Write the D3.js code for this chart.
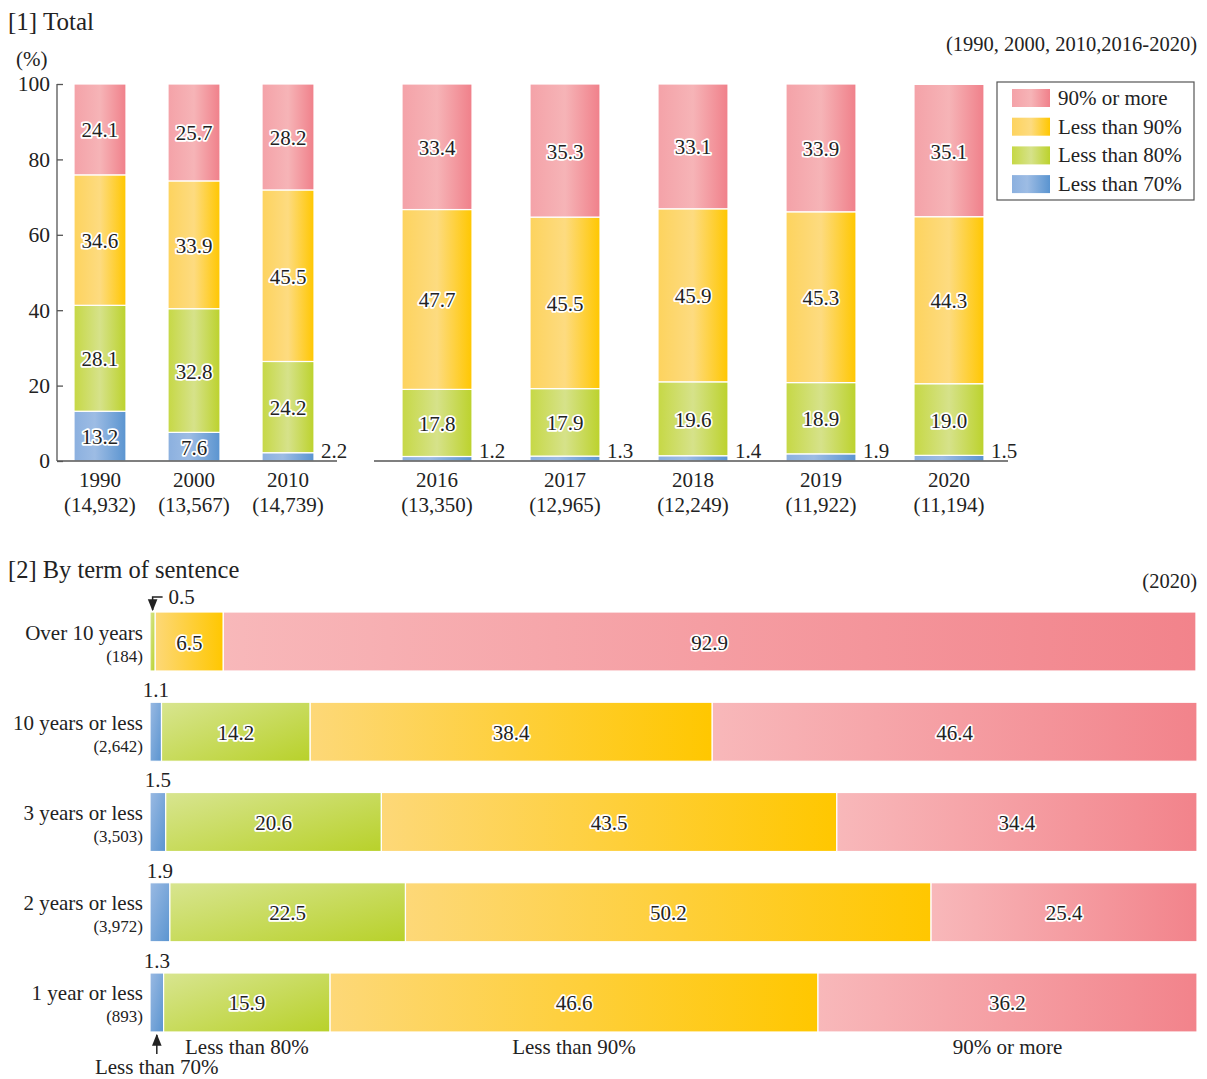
<!DOCTYPE html>
<html><head><meta charset="utf-8">
<script src="https://cdn.jsdelivr.net/npm/d3@7"></script>
<style>
body{margin:0;background:#fff;}
text{font-family:"Liberation Serif","Times New Roman",serif;fill:#222;}
.val{paint-order:stroke;stroke:#fff;stroke-width:3.5px;stroke-linejoin:round;}
</style></head>
<body><svg id="c" width="1207" height="1079"></svg>
<script>
// ---------- data ----------
const seriesKeys = ["lt70","lt80","lt90","ge90"];
const seriesNames = ["Less than 70%","Less than 80%","Less than 90%","90% or more"];
const yearsA = ["1990","2000","2010"];
const countsA = ["(14,932)","(13,567)","(14,739)"];
const yearsB = ["2016","2017","2018","2019","2020"];
const countsB = ["(13,350)","(12,965)","(12,249)","(11,922)","(11,194)"];
const lt70Top = [13.2,7.6,2.2,1.2,1.3,1.4,1.9,1.5];
const lt80Top = [28.1,32.8,24.2,17.8,17.9,19.6,18.9,19.0];
const lt90Top = [34.6,33.9,45.5,47.7,45.5,45.9,45.3,44.3];
const ge90Top = [24.1,25.7,28.2,33.4,35.3,33.1,33.9,35.1];
const yTicks = [0,20,40,60,80,100];

const terms = ["Over 10 years","10 years or less","3 years or less","2 years or less","1 year or less"];
const termCounts = ["(184)","(2,642)","(3,503)","(3,972)","(893)"];
const lt70Term = [0,1.1,1.5,1.9,1.3];
const lt80Term = [0.5,14.2,20.6,22.5,15.9];
const lt90Term = [6.5,38.4,43.5,50.2,46.6];
const ge90Term = [92.9,46.4,34.4,25.4,36.2];

// ---------- setup ----------
const FS = 21;
const svg = d3.select("#c");
const defs = svg.append("defs");
function grad(id, stops, x2, y2){
  const g = defs.append("linearGradient").attr("id",id)
    .attr("x1",0).attr("y1",0).attr("x2",x2).attr("y2",y2);
  stops.forEach(s=>g.append("stop").attr("offset",s[0]).attr("stop-color",s[1]));
}
grad("vA_ge90",[[0,"#f4a2a8"],[0.5,"#f6b4b7"],[1,"#f0808a"]],1,0);
grad("vA_lt90",[[0,"#fdd35e"],[0.5,"#fddb80"],[1,"#ffc700"]],1,0);
grad("vA_lt80",[[0,"#c6d845"],[0.5,"#d6e28a"],[1,"#bcd22c"]],1,0);
grad("vA_lt70",[[0,"#8bb0df"],[0.4,"#9dbce4"],[1,"#5a94d0"]],1,0);
grad("h_ge90",[[0,"#f8b8ba"],[1,"#f2838b"]],1,0);
grad("h_lt90",[[0,"#fdd878"],[1,"#ffc700"]],1,0);
grad("h_lt80",[[0,"#d8e590"],[1,"#b8d12a"]],1,1);
grad("h_lt70",[[0,"#9abae3"],[1,"#5a94d0"]],1,1);

defs.append("marker").attr("id","arr").attr("viewBox","0 0 10 10").attr("refX",9).attr("refY",5)
  .attr("markerWidth",8).attr("markerHeight",8).attr("orient","auto-start-reverse")
  .append("path").attr("d","M0,1 L10,5 L0,9 Z").attr("fill","#222");

// ---------- chart 1 ----------
const y = d3.scaleLinear().domain([0,100]).range([461,84]);
const xA = d3.scaleBand().domain(yearsA).range([74,314]).paddingInner(0.447).paddingOuter(0);
const xB = d3.scaleBand().domain(yearsB).range([402,984]).paddingInner(0.453).paddingOuter(0);
const allYears = yearsA.concat(yearsB);
const allCounts = countsA.concat(countsB);
const topData = allYears.map((yr,i)=>({year:yr,count:allCounts[i],lt70:lt70Top[i],lt80:lt80Top[i],lt90:lt90Top[i],ge90:ge90Top[i]}));
const stackTop = d3.stack().keys(seriesKeys)(topData);
const xPos = yr => yearsA.includes(yr) ? xA(yr) : xB(yr);
const bw = yr => yearsA.includes(yr) ? xA.bandwidth() : xB.bandwidth();

svg.append("text").attr("x",8).attr("y",30).attr("font-size",25).text("[1] Total");
svg.append("text").attr("x",16).attr("y",66).attr("font-size",21).text("(%)");
svg.append("text").attr("x",1197).attr("y",51).attr("text-anchor","end").attr("font-size",20.5).text("(1990, 2000, 2010,2016-2020)");

const yAxis = d3.axisLeft(y).tickValues(yTicks).tickSize(-6).tickPadding(7);
const gy = svg.append("g").attr("transform","translate(57,0)").call(yAxis);
gy.selectAll("path,line").attr("stroke","#555").attr("stroke-width",1.3);
gy.select(".domain").attr("d","M0,"+y(100)+"V"+y(0));
gy.selectAll("text").attr("font-size",21.5).attr("font-family","Liberation Serif, serif").attr("fill","#222");

stackTop.forEach(layer=>{
  const k = layer.key;
  svg.append("g").selectAll("rect").data(layer).join("rect")
    .attr("x",d=>xPos(d.data.year)).attr("width",d=>bw(d.data.year))
    .attr("y",d=>y(Math.min(d[1],100))).attr("height",d=>y(d[0])-y(Math.min(d[1],100)))
    .attr("fill","url(#vA_"+k+")").attr("stroke","#fff").attr("stroke-width",1.2);
});
svg.append("line").attr("x1",57).attr("x2",337).attr("y1",y(0)).attr("y2",y(0)).attr("stroke","#555").attr("stroke-width",1.3);
svg.append("line").attr("x1",374).attr("x2",1008).attr("y1",y(0)).attr("y2",y(0)).attr("stroke","#555").attr("stroke-width",1.3);

stackTop.forEach(layer=>{
  const k = layer.key;
  layer.forEach(d=>{
    const v = d.data[k];
    const cx = xPos(d.data.year)+bw(d.data.year)/2;
    if(k==="lt70" && v<5){
      svg.append("text").attr("x",xPos(d.data.year)+bw(d.data.year)+7).attr("y",y(0)-3)
        .attr("font-size",FS).text(v.toFixed(1));
    } else {
      svg.append("text").attr("class","val").attr("x",cx).attr("y",(y(d[0])+y(Math.min(d[1],100)))/2+8)
        .attr("text-anchor","middle").attr("font-size",FS).text(v.toFixed(1));
    }
  });
});
topData.forEach(d=>{
  const cx = xPos(d.year)+bw(d.year)/2;
  svg.append("text").attr("x",cx).attr("y",487).attr("text-anchor","middle").attr("font-size",21).text(d.year);
  svg.append("text").attr("x",cx).attr("y",512).attr("text-anchor","middle").attr("font-size",21).text(d.count);
});
svg.append("rect").attr("x",997).attr("y",82).attr("width",197).attr("height",118).attr("fill","#fff").attr("stroke","#555").attr("stroke-width",1.2);
const legOrder = [3,2,1,0];
legOrder.forEach((si,i)=>{
  const cy = 98 + i*28.7;
  svg.append("rect").attr("x",1012).attr("y",cy-9).attr("width",38).attr("height",18)
    .attr("fill","url(#vA_"+seriesKeys[si]+")");
  svg.append("text").attr("x",1058).attr("y",cy+7).attr("font-size",21).text(seriesNames[si]);
});

// ---------- chart 2 ----------
svg.append("text").attr("x",8).attr("y",578).attr("font-size",24.5).text("[2] By term of sentence");
svg.append("text").attr("x",1197).attr("y",588).attr("text-anchor","end").attr("font-size",20.5).text("(2020)");

const x2 = d3.scaleLinear().domain([0,100]).range([150,1197]);
const yB = d3.scaleBand().domain(terms).range([612,1032]).paddingInner(0.346).paddingOuter(0);
const termData = terms.map((t,i)=>({term:t,count:termCounts[i],lt70:lt70Term[i],lt80:lt80Term[i],lt90:lt90Term[i],ge90:ge90Term[i]}));
const stackTerm = d3.stack().keys(seriesKeys)(termData);
stackTerm.forEach(layer=>{
  const k = layer.key;
  svg.append("g").selectAll("rect").data(layer.filter(d=>d[1]-d[0]>0)).join("rect")
    .attr("x",d=>x2(d[0])).attr("width",d=>x2(Math.min(d[1],100))-x2(d[0]))
    .attr("y",d=>yB(d.data.term)).attr("height",yB.bandwidth())
    .attr("fill","url(#h_"+k+")").attr("stroke","#fff").attr("stroke-width",1.2);
  layer.forEach(d=>{
    const v = d.data[k];
    if(v<=0) return;
    const cy = yB(d.data.term)+yB.bandwidth()/2;
    const cx = (x2(d[0])+x2(Math.min(d[1],100)))/2;
    if(v>=3){
      svg.append("text").attr("class","val").attr("x",cx).attr("y",cy+8)
        .attr("text-anchor","middle").attr("font-size",FS).text(v.toFixed(1));
    } else if(k==="lt70"){
      svg.append("text").attr("x",cx).attr("y",yB(d.data.term)-5)
        .attr("text-anchor","middle").attr("font-size",FS).text(v.toFixed(1));
    } else {
      const top = yB(d.data.term);
      svg.append("path").attr("d",`M${cx+10},${top-15}H${cx}V${top-2}`)
        .attr("fill","none").attr("stroke","#222").attr("stroke-width",1.5).attr("marker-end","url(#arr)");
      svg.append("text").attr("x",cx+16).attr("y",top-8).attr("font-size",FS).text(v.toFixed(1));
    }
  });
});
termData.forEach(d=>{
  const cy = yB(d.term)+yB.bandwidth()/2;
  svg.append("text").attr("x",143).attr("y",cy-2).attr("text-anchor","end").attr("font-size",21).text(d.term);
  svg.append("text").attr("x",143).attr("y",cy+20).attr("text-anchor","end").attr("font-size",17).text(d.count);
});
const last = terms[terms.length-1];
const lastIdx = terms.length-1;
const barBottom = yB(last)+yB.bandwidth();
const segCenter = k => { const L = stackTerm[seriesKeys.indexOf(k)][lastIdx]; return (x2(L[0])+x2(L[1]))/2; };
const c70 = segCenter("lt70");
svg.append("line").attr("x1",c70).attr("x2",c70).attr("y1",barBottom+22).attr("y2",barBottom+3)
  .attr("stroke","#222").attr("stroke-width",1.5).attr("marker-end","url(#arr)");
svg.append("text").attr("x",c70).attr("y",1074).attr("text-anchor","middle").attr("font-size",21).text(seriesNames[0]);
["lt80","lt90","ge90"].forEach(k=>{
  svg.append("text").attr("x",segCenter(k)).attr("y",barBottom+22).attr("text-anchor","middle")
    .attr("font-size",21).text(seriesNames[seriesKeys.indexOf(k)]);
});
</script></body></html>
